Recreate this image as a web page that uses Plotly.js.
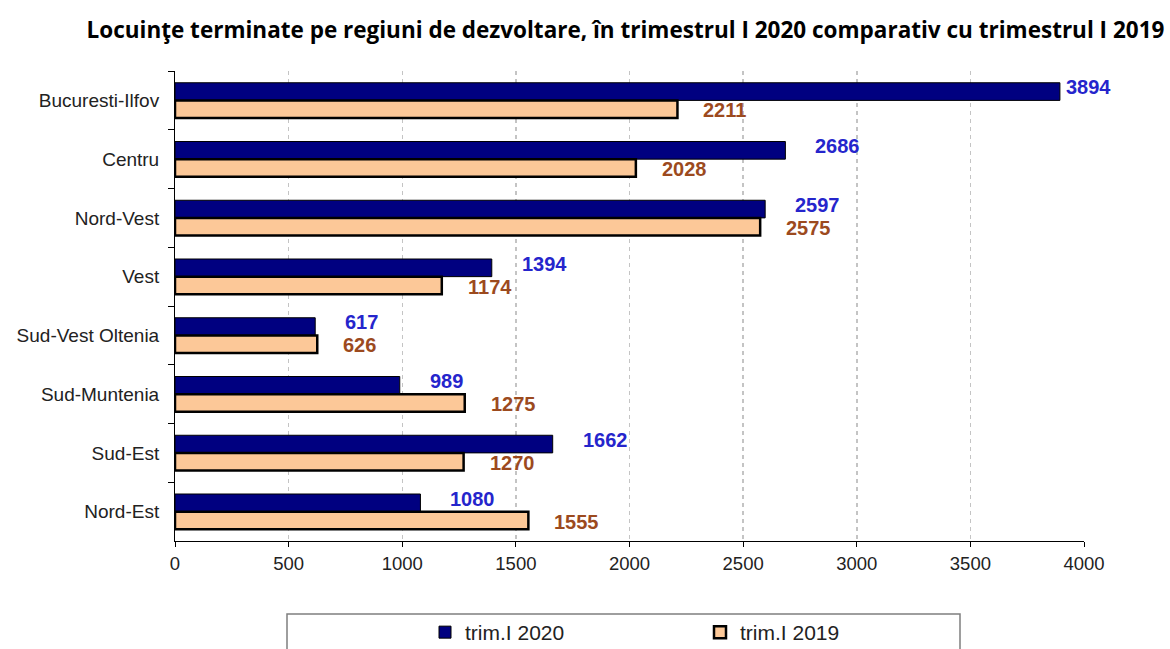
<!DOCTYPE html>
<html>
<head>
<meta charset="utf-8">
<script src="https://cdn.plot.ly/plotly-3.0.1.min.js"></script>
<style>html,body{margin:0;padding:0;background:#fff;}#chart{width:1170px;height:649px;}</style>
</head>
<body>
<div id="chart"></div>
<script>
const regions = ["Bucuresti-Ilfov","Centru","Nord-Vest","Vest","Sud-Vest Oltenia","Sud-Muntenia","Sud-Est","Nord-Est"];
const values2020 = [3894, 2686, 2597, 1394, 617, 989, 1662, 1080];
const values2019 = [2211, 2028, 2575, 1174, 626, 1275, 1270, 1555];
const seriesNames = ["trim.I 2020", "trim.I 2019"];
const xTicks = [0, 500, 1000, 1500, 2000, 2500, 3000, 3500, 4000];

const FONT = 'Arial, "Liberation Sans", sans-serif';

const traces = [
  {type:'bar', orientation:'h', name:seriesNames[0], y:regions, x:values2020,
   marker:{color:'#000080', line:{color:'#000000', width:1}}, hoverinfo:'x+y'},
  {type:'bar', orientation:'h', name:seriesNames[1], y:regions, x:values2019,
   marker:{color:'#fcc898', line:{color:'#000000', width:2.5}}, hoverinfo:'x+y'}
];

const annotations = [];
regions.forEach((r,i)=>{
  annotations.push({x:values2020[i], y:r, xref:'x', yref:'y', text:String(values2020[i]),
    showarrow:false, xanchor:'left', yanchor:'middle', xshift: values2020[i] > 3500 ? 4 : 28, yshift:13,
    font:{family:FONT, size:20, color:'#2525cc', weight:'bold'}});
  annotations.push({x:values2019[i], y:r, xref:'x', yref:'y', text:String(values2019[i]),
    showarrow:false, xanchor:'left', yanchor:'middle', xshift:24, yshift:-10,
    font:{family:FONT, size:20, color:'#9c4a1e', weight:'bold'}});
});

const layout = {
  width:1170, height:649,
  margin:{l:175, r:86, t:71, b:108, autoexpand:false},
  paper_bgcolor:'#ffffff', plot_bgcolor:'#ffffff',
  title:{text:'<b>Locuinţe terminate pe regiuni de dezvoltare, în trimestrul I 2020 comparativ cu trimestrul I 2019</b>',
    x:0.5346, xanchor:'center', y:0.953, yanchor:'middle',
    font:{family:'"Open Sans", sans-serif', size:22.5, color:'#000'}},
  barmode:'group', bargap:0.4, bargroupgap:0,
  xaxis:{range:[0,4000], tickvals:xTicks, ticktext:xTicks.map(String),
    showgrid:true, gridcolor:'#c4c4c4', griddash:'4px,4px', gridwidth:1.5,
    showline:true, linecolor:'#000', linewidth:1, ticks:'outside', ticklen:5, tickcolor:'#000',
    zeroline:false, tickfont:{family:FONT, size:18.5, color:'#222'}, ticklabelstandoff:1},
  yaxis:{type:'category', autorange:'reversed', tickson:'boundaries', ticks:'outside', ticklen:6, tickcolor:'#000',
    showline:true, linecolor:'#000', linewidth:1, showgrid:false,
    tickfont:{family:FONT, size:19, color:'#222'}, ticklabelstandoff:11},
  showlegend:true,
  legend:{orientation:'h', x:(425-175)/909, xanchor:'left', y:-(612-541)/470, yanchor:'top', traceorder:'normal',
    font:{family:FONT, size:21, color:'#222'}, entrywidth:230, entrywidthmode:'pixels',
    bgcolor:'rgba(0,0,0,0)', itemwidth:30},
  shapes:[{type:'rect', xref:'paper', yref:'paper', x0:(287-175)/909, x1:(960-175)/909,
    y0:-(680-541)/470, y1:-(614-541)/470, line:{color:'#7f7f7f', width:1.5}, fillcolor:'rgba(0,0,0,0)'}],
  annotations:annotations
};

Plotly.newPlot('chart', traces, layout, {displayModeBar:false, staticPlot:true});
</script>
</body>
</html>
